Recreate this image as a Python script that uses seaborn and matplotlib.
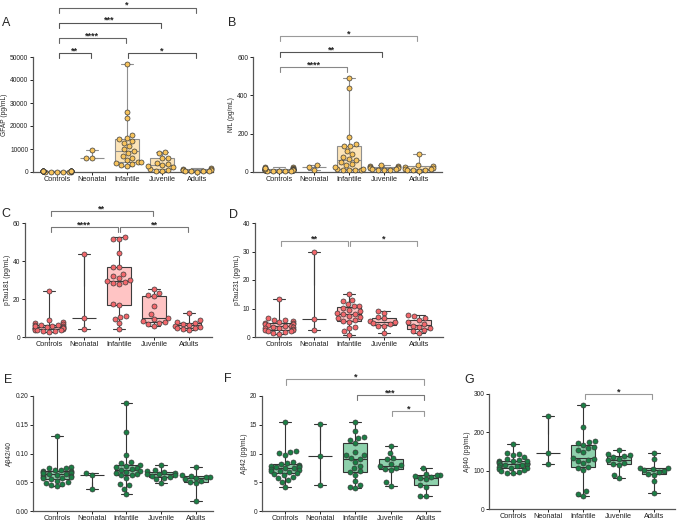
import numpy as np
import pandas as pd
import matplotlib
matplotlib.use("Agg")
import matplotlib.pyplot as plt
import matplotlib.transforms as mtransforms
from matplotlib.ticker import FormatStrFormatter, MultipleLocator
import seaborn as sns

groups = ["Controls", "Neonatal", "Infantile", "Juvenile", "Adults"]

# values, one list per group (Controls, Neonatal, Infantile, Juvenile, Adults)
gfap = [
    [80, 120, 150, 180, 200, 220, 250, 260, 280, 300, 310, 330, 350, 360, 380, 400, 420, 450, 480, 500, 150, 230, 270, 340, 390],
    [9600, 6000, 6100],
    [2500, 3000, 3500, 4000, 4200, 4400, 5200, 6200, 7000, 8200, 9100, 10000, 11500, 12800, 13500, 14500, 15000, 16000, 23500, 26000, 46800],
    [300, 600, 1000, 1500, 2000, 2500, 3000, 3500, 4000, 6000, 6200, 8200, 8700],
    [1800, 1500, 1200, 1000, 800, 700, 600, 500, 400, 300, 200],
]
nfl = [
    [28, 25, 22, 20, 18, 17, 16, 15, 14, 13, 12, 12, 11, 10, 10, 9, 8, 8, 7, 6, 5, 5, 4, 15, 19],
    [38, 27, 12],
    [8, 10, 12, 13, 14, 16, 28, 35, 40, 50, 62, 70, 80, 95, 110, 136, 138, 145, 185, 440, 490],
    [35, 32, 30, 28, 25, 22, 20, 18, 15, 12, 10, 8],
    [92, 35, 30, 28, 22, 18, 15, 12, 10, 8, 6],
]
ptau181 = [
    [24, 9, 8, 7.5, 7, 6.5, 6.2, 6, 5.8, 5.5, 5.2, 5, 4.8, 4.5, 4.3, 4, 3.8, 3.5, 3.2, 3, 2.8, 5.6, 4.6, 6.4, 3.6],
    [43.5, 10.2, 4.2],
    [4, 7.5, 9.5, 10.5, 11, 17, 17.2, 28, 28.5, 29, 29.5, 30, 31, 32, 33, 36.8, 37, 44, 51.5, 51.8, 52.5],
    [5.8, 7, 7.5, 8, 8.5, 9.5, 10, 12, 16.5, 21.5, 22, 23, 25.5],
    [12.5, 9, 8, 7.5, 7, 6.5, 6, 5.5, 5, 4.5, 4, 3.5],
]
ptau231 = [
    [13.5, 6.5, 6, 5.8, 5.5, 5.2, 5, 4.8, 4.6, 4.4, 4.2, 4, 3.8, 3.6, 3.4, 3.2, 3, 2.8, 2.6, 2.4, 2.2, 2, 1.8, 1.5, 1.2],
    [30, 6.4, 2.6],
    [15, 13, 12.5, 11.5, 11, 10.8, 10.2, 9.5, 9, 8.5, 8.2, 8, 7.5, 7, 6.5, 6, 5.5, 5.3, 3.4, 3.2, 2, 0.8],
    [9.2, 8.5, 7, 6.5, 5.5, 5.3, 5, 4.5, 4, 3.8, 1.3],
    [7.6, 7.2, 6.5, 6, 5.2, 4.5, 4, 3.5, 3, 2.5, 2, 1.4],
]
ab_ratio = [
    [0.131, 0.077, 0.075, 0.074, 0.072, 0.071, 0.070, 0.069, 0.068, 0.067, 0.066, 0.065, 0.064, 0.063,
     0.062, 0.061, 0.060, 0.059, 0.058, 0.057, 0.055, 0.053, 0.051, 0.049, 0.047, 0.045, 0.043, 0.066],
    [0.066, 0.062, 0.039],
    [0.187, 0.138, 0.097, 0.085, 0.083, 0.080, 0.079, 0.077, 0.075, 0.073, 0.072, 0.070, 0.068, 0.066,
     0.065, 0.063, 0.062, 0.058, 0.047, 0.045, 0.039, 0.030],
    [0.080, 0.071, 0.069, 0.068, 0.066, 0.065, 0.064, 0.063, 0.061, 0.060, 0.058, 0.055, 0.049],
    [0.076, 0.062, 0.061, 0.060, 0.059, 0.058, 0.056, 0.052, 0.050, 0.048, 0.018],
]
ab42 = [
    [15.4, 10.5, 10.3, 10.1, 9.8, 8.5, 8.4, 8.2, 8.0, 7.9, 7.8, 7.7, 7.6, 7.5, 7.4, 7.3, 7.2, 7.0, 6.9, 6.8,
     6.6, 6.4, 6.2, 6.0, 5.7, 5.4, 5.0, 4.1],
    [15.1, 9.6, 4.6],
    [15.5, 13.9, 12.8, 12.7, 12.3, 11.8, 10.2, 9.8, 9.7, 9.3, 9.1, 8.5, 7.9, 7.4, 6.9, 6.2, 5.2, 4.6, 4.2, 4.0, 6.7],
    [11.3, 10.1, 9.2, 9.0, 8.2, 8.0, 7.8, 7.5, 7.3, 7.1, 5.0, 4.4],
    [7.4, 6.5, 6.3, 6.2, 6.1, 5.9, 5.7, 5.5, 4.6, 4.2, 2.6, 2.6],
]
ab40 = [
    [170, 146, 143, 140, 135, 130, 128, 126, 124, 122, 120, 119, 118, 117, 116, 115, 114, 112, 110, 108,
     106, 104, 102, 100, 97, 95, 94, 125],
    [243, 146, 117],
    [272, 214, 178, 175, 172, 168, 162, 158, 155, 150, 132, 128, 125, 120, 110, 106, 102, 48, 40, 35, 130],
    [153, 143, 141, 138, 135, 130, 127, 120, 118, 115, 90, 82],
    [146, 131, 108, 106, 104, 102, 100, 97, 92, 88, 72, 42],
]

sns.set_style("ticks")
plt.rcParams["font.family"] = ["Liberation Sans", "DejaVu Sans"]

W, H = 677, 522
fig = plt.figure(figsize=(W / 100, H / 100), dpi=100)

yellow = dict(fill="#FCE4B8", line="#8f8f8f", dot="#F7C35C")
red = dict(fill="#FFC4C4", line="#3c3c3c", dot="#F2676B")
green = dict(fill="#8ED1AC", line="#333333", dot="#1B7F45")


def px_axes(l, t, r, b):
    return fig.add_axes([l / W, 1 - b / H, (r - l) / W, (b - t) / H])


def long_form(values):
    rows = [(g, v) for g, vals in zip(groups, values) for v in vals]
    return pd.DataFrame(rows, columns=["group", "value"])


def panel(ax, values, ylabel, ymax, step, xlim, pal, fmt="%d"):
    df = long_form(values)
    sns.boxplot(data=df, x="group", y="value", order=groups, whis=(0, 100), width=0.68,
                color=pal["fill"], saturation=1, linecolor=pal["line"], linewidth=0.8,
                showfliers=False, ax=ax)
    # the three neonatal samples are shown as range + median only, no box
    ax.patches[1].set_visible(False)
    neo = np.array(values[1])
    ax.vlines(1, neo.min(), neo.max(), color=pal["line"], lw=0.8, zorder=1.5)
    sns.swarmplot(data=df, x="group", y="value", order=groups, color=pal["dot"],
                  edgecolor="#3a3a3a", linewidth=0.5, size=3.6, warn_thresh=1, ax=ax)
    for c in ax.collections:
        c.set_clip_on(False)
    ax.set_ylim(0, ymax)
    ax.set_xlim(*xlim)
    ax.yaxis.set_major_locator(MultipleLocator(step))
    ax.yaxis.set_major_formatter(FormatStrFormatter(fmt))
    ax.set_xlabel("")
    ax.set_ylabel(ylabel, fontsize=4.8, labelpad=1.5)
    ax.tick_params(labelsize=4.8, length=2.2, width=0.7, pad=1.2, colors="#222222")
    ax.tick_params(axis="x", labelsize=5.3, pad=1)
    for s in ["top", "right"]:
        ax.spines[s].set_visible(False)
    for s in ["left", "bottom"]:
        ax.spines[s].set_color("#555555")
        ax.spines[s].set_linewidth(0.9)


def brackets(ax, specs):
    trans = mtransforms.blended_transform_factory(ax.transData, ax.transAxes)
    drop = 0.045
    for i, j, f, stars, col in specs:
        x1, x2 = i + 0.04, j - 0.04
        ax.plot([x1, x1, x2, x2], [f - drop, f, f, f - drop], color=col, lw=0.8,
                transform=trans, clip_on=False)
        ax.text((i + j) / 2, f - 0.004, stars, ha="center", va="baseline", fontsize=6.5,
                fontweight="bold", transform=trans, color="#222222")


axA = px_axes(33, 57, 213, 172)
panel(axA, gfap, "GFAP (pg/mL)", 50000, 10000, (-0.69, 4.46), yellow)
brackets(axA, [(0, 4, 1.43, "*", "#666666"), (0, 3, 1.30, "***", "#555555"),
               (0, 2, 1.165, "****", "#666666"), (0, 1, 1.035, "**", "#555555"),
               (2, 4, 1.035, "*", "#555555")])

axB = px_axes(253, 57, 442, 172)
panel(axB, nfl, "NfL (pg/mL)", 600, 200, (-0.74, 4.66), yellow)
brackets(axB, [(0, 4, 1.183, "*", "#9a9a9a"), (0, 3, 1.043, "**", "#555555"),
               (0, 2, 0.913, "****", "#888888")])

axC = px_axes(25, 223, 212, 337)
panel(axC, ptau181, "pTau181 (pg/mL)", 60, 20, (-0.69, 4.66), red)
brackets(axC, [(0, 3, 1.108, "**", "#777777"), (0, 2, 0.968, "****", "#777777"),
               (2, 4, 0.968, "**", "#777777")])

axD = px_axes(255, 223, 443, 337)
panel(axD, ptau231, "pTau231 (pg/mL)", 40, 10, (-0.69, 4.69), red)
brackets(axD, [(0, 2, 0.842, "**", "#999999"), (2, 4, 0.842, "*", "#999999")])

axE = px_axes(33, 396, 213, 511)
panel(axE, ab_ratio, "A\u03b242/40", 0.20, 0.05, (-0.69, 4.49), green, fmt="%.2f")

axF = px_axes(262, 396, 440, 511)
panel(axF, ab42, "A\u03b242 (pg/mL)", 20, 5, (-0.65, 4.4), green)
brackets(axF, [(0, 4, 1.145, "*", "#999999"), (2, 4, 1.009, "***", "#777777"),
               (3, 4, 0.872, "*", "#999999")])

axG = px_axes(489, 394, 675, 509)
panel(axG, ab40, "A\u03b240 (pg/mL)", 300, 100, (-0.68, 4.6), green)
brackets(axG, [(2, 4, 1.0, "*", "#999999")])

for letter, x, y in [("A", 6, 23), ("B", 232, 23), ("C", 6, 214), ("D", 233, 215),
                     ("E", 8, 380), ("F", 228, 379), ("G", 469, 380)]:
    fig.text(x / W, 1 - y / H, letter, fontsize=9, ha="center", va="center")

fig.savefig("out.png", dpi=100)
